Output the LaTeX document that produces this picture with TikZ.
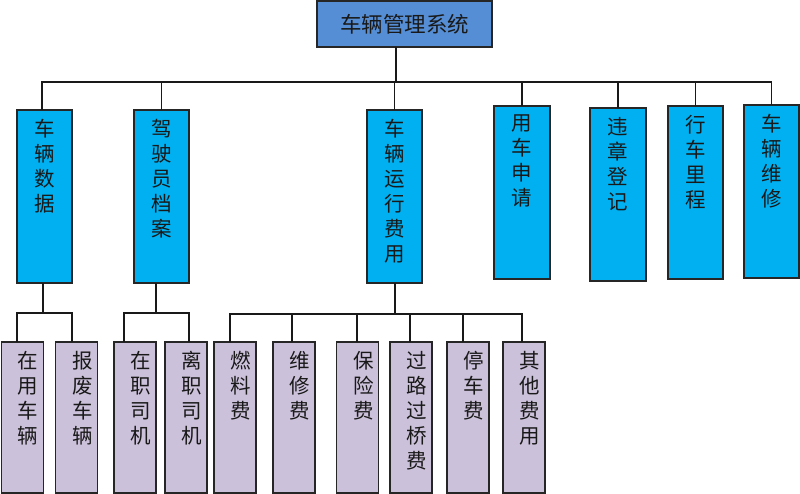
\documentclass[tikz,border=0pt]{standalone}
\usepackage{fontspec}
\newfontfamily\cjk{Noto Sans CJK SC}
\definecolor{rootblue}{HTML}{558ED5}
\definecolor{midblue}{HTML}{00B0F0}
\definecolor{leafpurple}{HTML}{CCC1DA}
\definecolor{edgegray}{HTML}{262626}
\tikzset{
  boxbase/.style={draw=edgegray, line width=1.3pt, inner sep=0pt, outer sep=0pt},
  rootbox/.style={boxbase, fill=rootblue, minimum width=175, minimum height=46,
     font=\cjk\fontsize{21.5}{24}\selectfont, text=black!90},
  midbox/.style={boxbase, fill=midblue, minimum width=55, minimum height=173},
  leafbox/.style={boxbase, fill=leafpurple, minimum width=42, minimum height=151},
  vtext/.style={anchor=north, inner sep=0pt, align=center, text=black!90,
     font=\cjk\fontsize{20.5}{25}\selectfont},
  conn/.style={draw=black!90, line width=1.2pt}
}
\begin{document}
\begin{tikzpicture}[x=1pt,y=-1pt]
\useasboundingbox (0,0) rectangle (800,494);
% root
\node[rootbox] (root) at (404.5,24) {车辆管理系统};
% middle level boxes (center x, center y)
\node[midbox] (m1) at (44.5,196.5) {};
\node[midbox] (m2) at (161.5,196.5) {};
\node[midbox] (m3) at (394.5,196.5) {};
\node[midbox, minimum width=56] (m4) at (522,192.5) {};
\node[midbox, minimum width=56] (m5) at (618,194.5) {};
\node[midbox] (m6) at (695.5,192.5) {};
\node[midbox] (m7) at (771.5,191.5) {};
\node[vtext] (t1) at ([yshift=-9]m1.north) {车\\辆\\数\\据};
\node[vtext] (t2) at ([yshift=-9]m2.north) {驾\\驶\\员\\档\\案};
\node[vtext] (t3) at ([yshift=-9]m3.north) {车\\辆\\运\\行\\费\\用};
\node[vtext] (t4) at ([yshift=-9]m4.north) {用\\车\\申\\请};
\node[vtext] (t5) at ([yshift=-9]m5.north) {违\\章\\登\\记};
\node[vtext] (t6) at ([yshift=-9]m6.north) {行\\车\\里\\程};
\node[vtext] (t7) at ([yshift=-9]m7.north) {车\\辆\\维\\修};
% leaves
\node[leafbox] (l1) at (22.5,417.5) {};
\node[leafbox] (l2) at (76.5,417.5) {};
\node[leafbox] (l3) at (135,417.5) {};
\node[leafbox] (l4) at (186,417.5) {};
\node[leafbox] (l5) at (235,417.5) {};
\node[leafbox] (l6) at (294,417.5) {};
\node[leafbox] (l7) at (357.5,417.5) {};
\node[leafbox] (l8) at (411,417.5) {};
\node[leafbox] (l9) at (468,417.5) {};
\node[leafbox] (l10) at (524,417.5) {};
\node[vtext] (u1) at ([xshift=5,yshift=-9]l1.north) {在\\用\\车\\辆};
\node[vtext] (u2) at ([xshift=6,yshift=-9]l2.north) {报\\废\\车\\辆};
\node[vtext] (u3) at ([xshift=6,yshift=-9]l3.north) {在\\职\\司\\机};
\node[vtext] (u4) at ([xshift=6,yshift=-9]l4.north) {离\\职\\司\\机};
\node[vtext] (u5) at ([xshift=6,yshift=-9]l5.north) {燃\\料\\费};
\node[vtext] (u6) at ([xshift=6,yshift=-9]l6.north) {维\\修\\费};
\node[vtext] (u7) at ([xshift=6,yshift=-9]l7.north) {保\\险\\费};
\node[vtext] (u8) at ([xshift=6,yshift=-9]l8.north) {过\\路\\过\\桥\\费};
\node[vtext] (u9) at ([xshift=6,yshift=-9]l9.north) {停\\车\\费};
\node[vtext] (u10) at ([xshift=6,yshift=-9]l10.north) {其\\他\\费\\用};
% top bus
\coordinate (bus) at ([xshift=-8.5,yshift=-35]root.south);
\draw[conn] ([xshift=-8.5]root.south) -- (bus);
\draw[conn] ([xshift=-2.5]m1.north) |- (bus) -| (m7.north);
\foreach \m in {m2,m3,m4,m5,m6} \draw[conn] (\m.north) -- (\m.north |- bus);
% branch under m1
\coordinate (b1) at ([xshift=-1.5,yshift=-30]m1.south);
\draw[conn] ([xshift=-1.5]m1.south) -- (b1);
\draw[conn] ([xshift=-5.5]l1.north) |- (b1) -| ([xshift=-4.5]l2.north);
% branch under m2
\coordinate (b2) at ([xshift=-5.5,yshift=-30]m2.south);
\draw[conn] ([xshift=-5.5]m2.south) -- (b2);
\draw[conn] ([xshift=-11]l3.north) |- (b2) -| ([xshift=3]l4.north);
% branch under m3
\coordinate (b3) at ([xshift=0.5,yshift=-31]m3.south);
\draw[conn] ([xshift=0.5]m3.south) -- (b3);
\draw[conn] ([xshift=-5]l5.north) |- (b3) -| ([xshift=-2]l10.north);
\draw[conn] ([xshift=-2]l6.north) -- ([xshift=-2]l6.north |- b3);
\draw[conn] ([xshift=-0.5]l7.north) -- ([xshift=-0.5]l7.north |- b3);
\draw[conn] ([xshift=-1]l8.north) -- ([xshift=-1]l8.north |- b3);
\draw[conn] ([xshift=-5]l9.north) -- ([xshift=-5]l9.north |- b3);
\end{tikzpicture}
\end{document}
